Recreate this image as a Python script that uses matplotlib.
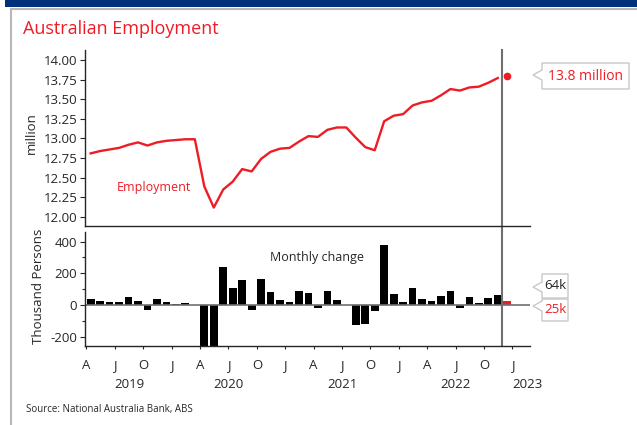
import matplotlib
matplotlib.use("Agg")
import matplotlib.pyplot as plt
import matplotlib.transforms as mtransforms
from matplotlib.patches import Polygon, Rectangle
from matplotlib.lines import Line2D
import numpy as np

plt.rcParams['font.family'] = ['Open Sans', 'DejaVu Sans']
plt.rcParams['axes.unicode_minus'] = False

RED = "#ee1c25"
NAVY = "#00307a"
TXT = "#262626"
GREY = "#707070"

# monthly, Apr 2019 .. Nov 2022
employment = [12.81, 12.84, 12.86, 12.88, 12.92, 12.95, 12.91, 12.95, 12.97,
              12.98, 12.99, 12.99, 12.39, 12.12, 12.35, 12.45, 12.61, 12.58,
              12.74, 12.83, 12.87,
              12.88, 12.96, 13.03, 13.02, 13.11, 13.14, 13.14, 13.01, 12.89,
              12.85, 13.22, 13.29,
              13.31, 13.42, 13.46, 13.48, 13.55, 13.63, 13.61, 13.65, 13.66,
              13.71, 13.77]
change = [37, 27, 17, 21, 48, 27, -32, 36, 21,
          8, 15, 2, -600, -300, 238, 105, 158, -32, 162, 84, 32,
          17, 88, 78, -21, 90, 32, 2, -128, -120, -36, 379, 69,
          19, 107, 36, 27, 57, 88, -17, 48, 13, 44, 64]
# Dec 2022 forecast
employment_fcst = 13.80
change_fcst = 25

month_letters = ["A", "J", "O", "J"]
years = ["2019", "2020", "2021", "2022", "2023"]
year_pos = [4.5, 15, 27, 39, 46.6]

W, H = 637, 425
fig = plt.figure(figsize=(W / 100, H / 100), dpi=100)
px = mtransforms.Affine2D().scale(1 / W, -1 / H).translate(0, 1) + fig.transFigure


def fbox(l, t, r, b):
    return [l / W, 1 - b / H, (r - l) / W, (b - t) / H]


# page decoration
fig.add_artist(Rectangle((5, 0), W - 5, 7, transform=px, color=NAVY, lw=0))
fig.add_artist(Line2D([10.5, W], [9.5, 9.5], transform=px, color="#b8b8b8", lw=1.5))
fig.add_artist(Line2D([10.5, 10.5], [9.5, H], transform=px, color="#b8b8b8", lw=1.5))
fig.text(23, 29, "Australian Employment", transform=px, va="center",
         color=RED, fontsize=13)
fig.text(26, 410, "Source: National Australia Bank, ABS", transform=px,
         va="center", color=TXT, fontsize=7)

ax1 = fig.add_axes(fbox(85, 50, 530, 226))
ax2 = fig.add_axes(fbox(85, 232, 530, 346))

x = np.arange(len(employment)) + 0.45
x_fcst = len(employment) + 0.45
vline = len(employment) - 0.07

for ax in (ax1, ax2):
    for s in ("top", "right"):
        ax.spines[s].set_visible(False)
    for s in ("left", "bottom"):
        ax.spines[s].set_color(TXT)
        ax.spines[s].set_linewidth(1.0)
    ax.set_xlim(-0.15, 46.85)
    ax.tick_params(colors=TXT, labelsize=9.5, width=0.8)

# upper: level
ax1.plot(x, employment, color=RED, lw=1.7)
ax1.plot(x_fcst, employment_fcst, "o", color=RED, ms=4.5)
ax1.axvline(vline, ymin=-0.04, ymax=1, clip_on=False, color=GREY, lw=1.5)
ax1.set_ylim(11.885, 14.127)
ax1.set_yticks(np.arange(12.0, 14.01, 0.25))
ax1.set_yticklabels([f"{v:.2f}" for v in np.arange(12.0, 14.01, 0.25)])
ax1.set_xticks([])
ax1.tick_params(axis="y", length=3.5, pad=2)
ax1.set_ylabel("million", fontsize=9.5, color=TXT)
ax1.yaxis.set_label_coords(-0.105, 0.53)
ax1.text(3.2, 12.37, "Employment", color=RED, fontsize=9, va="center")

# lower: monthly change
ax2.bar(x, change, width=0.82, color="black")
ax2.bar(x_fcst, change_fcst, width=0.82, color=RED)
ax2.axhline(0, color=GREY, lw=1.2)
ax2.axvline(vline, color=GREY, lw=1.5)
ax2.set_ylim(-259, 461)
ax2.set_yticks([-200, 0, 200, 400])
ax2.set_yticklabels(["-200", "0", "200", "400"])
ax2.set_yticks([-100, 100, 300], minor=True)
ax2.tick_params(axis="y", which="major", length=3.5, pad=2)
ax2.tick_params(axis="y", which="minor", length=2.5, color=TXT, width=0.8)
qt = np.arange(0, 46, 3)
ax2.set_xticks(qt)
ax2.set_xticklabels([month_letters[i % 4] for i in range(len(qt))])
ax2.set_xticks(qt[qt % 12 == 9], minor=True)
ax2.tick_params(axis="x", which="major", length=2.5, pad=7)
ax2.tick_params(axis="x", which="minor", length=5.5, color=TXT, width=0.8)
ax2.set_ylabel("Thousand Persons", fontsize=9.5, color=TXT)
ax2.yaxis.set_label_coords(-0.09, 0.52)
ax2.text(19.4, 303, "Monthly change", color=TXT, fontsize=9, va="center")
yr_tr = mtransforms.blended_transform_factory(ax2.transData, ax2.transAxes)
for p, yname in zip(year_pos, years):
    ax2.text(p, -0.34, yname, transform=yr_tr, ha="center", va="center",
             fontsize=9.5, color=TXT, clip_on=False)


def callout(l, r, t, b, tip_y, text, color, size):
    verts = [(l - 9, tip_y), (l, tip_y - 5), (l, t), (r, t), (r, b),
             (l, b), (l, tip_y + 5)]
    fig.add_artist(Polygon(verts, closed=True, transform=px, facecolor="white",
                           edgecolor="#c8c8c8", lw=1))
    fig.text((l + r) / 2, (t + b) / 2, text, transform=px, ha="center",
             va="center", color=color, fontsize=size)


callout(542, 629, 63, 89, 75, f"{employment_fcst:.1f} million", RED, 10)
callout(542, 568, 274, 298, 287, f"{change[-1]}k", TXT, 9.5)
callout(542, 568, 299, 321, 306, f"{change_fcst}k", RED, 9.5)

fig.savefig("out.png", dpi=100)
